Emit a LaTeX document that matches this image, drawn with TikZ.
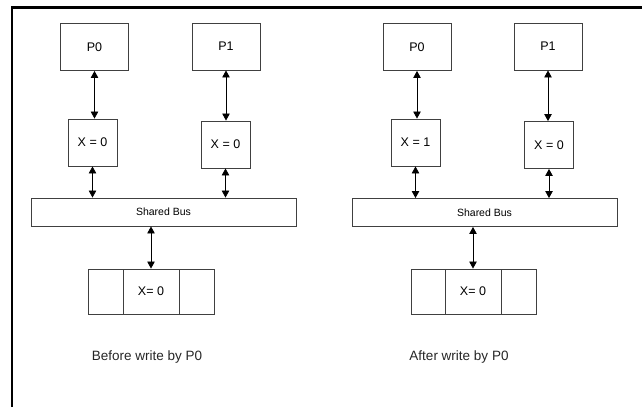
\documentclass[tikz,border=0pt]{standalone}
\usepackage{fontspec}
\setmainfont{Liberation Sans}
\usepackage{tikz}
\usetikzlibrary{arrows.meta, positioning}

\begin{document}
\begin{tikzpicture}[x=1pt, y=-1pt,
		box/.style={draw=black!75, line width=0.9pt, inner sep=0pt, align=center, font=\fontsize{12.5}{14}\selectfont},
		proc/.style={box, minimum width=68pt, minimum height=47pt},
		cache/.style={box, minimum width=49pt, minimum height=47pt},
		bus/.style={box, minimum width=265pt, minimum height=28pt, font=\fontsize{10.5}{12}\selectfont},
		cell/.style={box, minimum height=45pt},
		link/.style={{Triangle[length=7pt,width=7.5pt]}-{Triangle[length=7pt,width=7.5pt]}, line width=0.8pt},
		caption/.style={font=\fontsize{13.5}{15}\selectfont, text=black!85}]
	\useasboundingbox (0,0) rectangle (642,407);
	% outer frame (top and left only)
	\draw[line width=2.6pt] (12,407) -- (12,7.5) -- (642,7.5);

	% before the write
	\node(p0L)  [proc]  at (94.5,47)   {P0};
	\node(p1L)  [proc]  at (226,46.5)  {P1};
	\node(cxL0) [cache] at (92.5,142.5) {X = 0};
	\node(cxL1) [cache] at (225.5,144.5) {X = 0};
	\node(busL) [bus]   at (163.5,212) {Shared Bus};
	\node(memL) [cell, minimum width=56pt] at (151,291.5) {X= 0};
	\node(memLa) [cell, minimum width=35pt, left=-0.9pt of memL] {};
	\node(memLb) [cell, minimum width=35pt, right=-0.9pt of memL] {};
	\node(capL) [caption] at (147,357) {Before write by P0};

	\draw[link] (p0L.south) -- (p0L.south |- cxL0.north);
	\draw[link] (p1L.south) -- (p1L.south |- cxL1.north);
	\draw[link] (cxL0.south) -- (cxL0.south |- busL.north);
	\draw[link] (cxL1.south) -- (cxL1.south |- busL.north);
	\draw[link] (memL.north |- busL.south) -- (memL.north);

	% after P0 writes
	\node(p0R)  [proc]  at (417,47)    {P0};
	\node(p1R)  [proc]  at (548,46.5)  {P1};
	\node(cxR0) [cache] at (415.5,142.5) {X = 1};
	\node(cxR1) [cache] at (549,145)   {X = 0};
	\node(busR) [bus]   at (484.5,212.5) {Shared Bus};
	\node(memR) [cell, minimum width=56pt] at (473,291.5) {X= 0};
	\node(memRa) [cell, minimum width=34pt, left=-0.9pt of memR] {};
	\node(memRb) [cell, minimum width=35pt, right=-0.9pt of memR] {};
	\node(capR) [caption] at (459,357) {After write by P0};

	\draw[link] (p0R.south) -- (p0R.south |- cxR0.north);
	\draw[link] (p1R.south) -- (p1R.south |- cxR1.north);
	\draw[link] (cxR0.south) -- (cxR0.south |- busR.north);
	\draw[link] (cxR1.south) -- (cxR1.south |- busR.north);
	\draw[link] (memR.north |- busR.south) -- (memR.north);
\end{tikzpicture}
\end{document}
